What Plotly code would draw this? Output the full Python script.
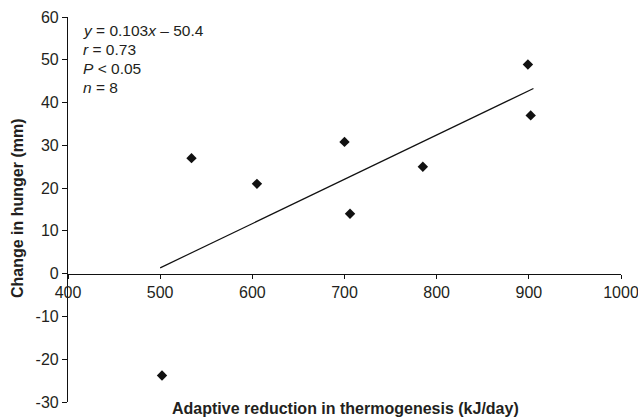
import numpy as np
import plotly.graph_objects as go

# Data
thermo = [502, 534, 605, 700, 706, 785, 899, 902]          # kJ/day
hunger = [-23.8, 27.0, 21.0, 30.8, 14.0, 25.0, 48.9, 37.0]  # mm
x_ticks = [400, 500, 600, 700, 800, 900, 1000]
y_ticks = [-30, -20, -10, 0, 10, 20, 30, 40, 50, 60]
y_tick_text = ["-30", "-20", "-10", "0", "10", "20", "30", "40", "50", "60"]
stats_lines = ["<i>y</i> = 0.103<i>x</i> – 50.4", "<i>r</i> = 0.73", "<i>P</i> < 0.05", "<i>n</i> = 8"]

slope, intercept = np.polyfit(thermo, hunger, 1)
line_x = np.array([500, 905])
line_y = slope * line_x + intercept

FONT = "Liberation Sans, Arial, sans-serif"
TXT = "#231f20"
FS = 16

fig = go.Figure()
fig.add_trace(go.Scatter(x=line_x, y=line_y, mode="lines",
                         line=dict(color="#111111", width=1.2), showlegend=False))
fig.add_trace(go.Scatter(x=thermo, y=hunger, mode="markers",
                         marker=dict(symbol="diamond", size=8, color="#111111"),
                         showlegend=False))

L, R, T, B = 68, 17, 17, 16
W, H = 638, 418
pw, ph = W - L - R, H - T - B

fig.update_layout(
    width=W, height=H,
    margin=dict(l=L, r=R, t=T, b=B, autoexpand=False),
    paper_bgcolor="white", plot_bgcolor="white",
    font=dict(family=FONT, size=FS, color=TXT),
    xaxis=dict(range=[400, 1000], tickvals=x_ticks, showgrid=False, zeroline=False,
               showline=True, linecolor="#111111", linewidth=1.2,
               ticks="outside", ticklen=4, tickcolor="#111111",
               anchor="free", position=1/3, automargin=False,
               ticklabeloverflow="allow",
               tickfont=dict(family=FONT, size=FS, color=TXT)),
    yaxis=dict(range=[-30, 60], tickvals=y_ticks, ticktext=y_tick_text,
               showgrid=False, zeroline=False,
               showline=True, linecolor="#111111", linewidth=1.2,
               ticks="outside", ticklen=5, tickcolor="#111111", automargin=False,
               ticklabeloverflow="allow",
               tickfont=dict(family=FONT, size=FS, color=TXT)),
)

# stats text
for i, s in enumerate(stats_lines):
    ypx = 30.7 + i * 18.9
    fig.add_annotation(text=s, xref="paper", yref="paper",
                       x=(81 - L) / pw, y=1 - (ypx - T) / ph,
                       xanchor="left", yanchor="middle", showarrow=False,
                       font=dict(family=FONT, size=15.5, color=TXT))

# axis titles
fig.add_annotation(text="<b>Adaptive reduction in thermogenesis (kJ/day)</b>",
                   xref="paper", yref="paper", x=(345 - L) / pw, y=-(408 - (H - B)) / ph,
                   xanchor="center", yanchor="middle", showarrow=False,
                   font=dict(family=FONT, size=FS, color=TXT))
fig.add_annotation(text="<b>Change in hunger (mm)</b>",
                   xref="paper", yref="paper", x=(17 - L) / pw, y=(402 - 208) / ph,
                   xanchor="center", yanchor="middle", textangle=-90, showarrow=False,
                   font=dict(family=FONT, size=FS, color=TXT))

fig.write_html("out.html", config={"displayModeBar": False},
               post_script="document.body.style.margin='0';document.body.style.overflow='hidden';")
